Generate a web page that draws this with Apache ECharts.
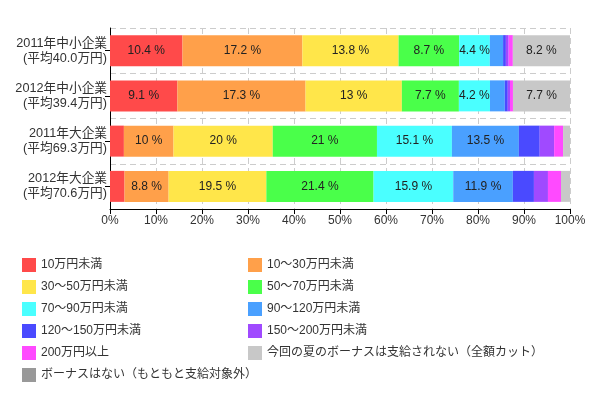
<!DOCTYPE html>
<html><head><meta charset="utf-8">
<script src="https://cdn.jsdelivr.net/npm/echarts@6/dist/echarts.min.js"></script>
<style>html,body{margin:0;padding:0;background:#fff}#c{width:598px;height:398px}</style>
</head><body><div id="c"></div>
<script>
const categories = ['2011年中小企業\n(平均40.0万円)','2012年中小企業\n(平均39.4万円)','2011年大企業\n(平均69.3万円)','2012年大企業\n(平均70.6万円)'];
const seriesNames = ['10万円未満','10〜30万円未満','30〜50万円未満','50〜70万円未満','70〜90万円未満','90〜120万円未満','120〜150万円未満','150〜200万円未満','200万円以上','今回の夏のボーナスは支給されない（全額カット）','ボーナスはない（もともと支給対象外）'];
const under10 = [10.4, 9.1, 2.8, 2.9];
const r10to30 = [17.2, 17.3, 10, 8.8];
const r30to50 = [13.8, 13, 20, 19.5];
const r50to70 = [8.7, 7.7, 21, 21.4];
const r70to90 = [4.4, 4.2, 15.1, 15.9];
const r90to120 = [1.9, 2.0, 13.5, 11.9];
const r120to150 = [0.4, 0.4, 4.2, 4.2];
const r150to200 = [0.4, 0.3, 2.9, 2.8];
const over200 = [0.6, 0.4, 1.8, 2.6];
const cut = [8.2, 7.7, 1.4, 1.8];
const noBonus = [0, 0, 0, 0];
const xTicks = ['0%','10%','20%','30%','40%','50%','60%','70%','80%','90%','100%'];
const colors = ['#ff4a4a','#ffa04a','#ffe64a','#4aff4a','#4affff','#4aa0ff','#4a4aff','#a04aff','#ff4aff','#c8c8c8','#999999'];

const raw = [under10,r10to30,r30to50,r50to70,r70to90,r90to120,r120to150,r150to200,over200,cut,noBonus];
const totals = categories.map((_, i) => raw.reduce((s, a) => s + a[i], 0));
const FONT = 'Liberation Sans, Arial, Noto Sans CJK JP, sans-serif';

const series = raw.map((arr, k) => ({
  name: seriesNames[k], type: 'bar', stack: 'all', barWidth: 31,
  itemStyle: { color: colors[k] },
  data: arr.map((v, i) => {
    const pct = v / totals[i] * 100;
    return { value: pct, raw: v, label: { show: pct >= 5 } };
  }),
  label: { position: 'inside', color: '#222', fontSize: 12, fontFamily: FONT,
    formatter: p => p.data.raw + ' %' }
}));

const chart = echarts.init(document.getElementById('c'));
chart.setOption({
  animation: false,
  color: colors,
  grid: { left: 110, right: 28, top: 28, bottom: 189, containLabel: false },
  xAxis: { type: 'value', min: 0, max: 100, interval: 10,
    axisLine: { show: true, lineStyle: { color: '#000' } },
    axisTick: { show: true, length: 5, lineStyle: { color: '#000' } },
    axisLabel: { color: '#333', fontSize: 12, fontFamily: FONT, margin: 6,
      formatter: v => xTicks[Math.round(v / 10)] },
    splitLine: { show: true, lineStyle: { color: '#ccc', type: [6, 4] } } },
  yAxis: { type: 'category', inverse: true, data: categories,
    axisLine: { show: true, lineStyle: { color: '#000' } },
    axisTick: { show: true, alignWithLabel: true, length: 5, lineStyle: { color: '#000' } },
    axisLabel: { color: '#333', fontSize: 12.7, fontFamily: FONT, margin: 3, lineHeight: 15, align: 'right' },
    splitLine: { show: true, lineStyle: { color: '#ccc', type: [6, 4] } } },
  legend: [
    { data: seriesNames.filter((_, i) => i % 2 === 0), orient: 'vertical', left: 22, top: 258, padding: 0,
      itemWidth: 14, itemHeight: 14, itemGap: 8, icon: 'rect',
      textStyle: { color: '#333', fontSize: 12, fontFamily: FONT } },
    { data: seriesNames.filter((_, i) => i % 2 === 1), orient: 'vertical', left: 248, top: 258, padding: 0,
      itemWidth: 14, itemHeight: 14, itemGap: 8, icon: 'rect',
      textStyle: { color: '#333', fontSize: 12, fontFamily: FONT } }
  ],
  series
});
</script></body></html>
